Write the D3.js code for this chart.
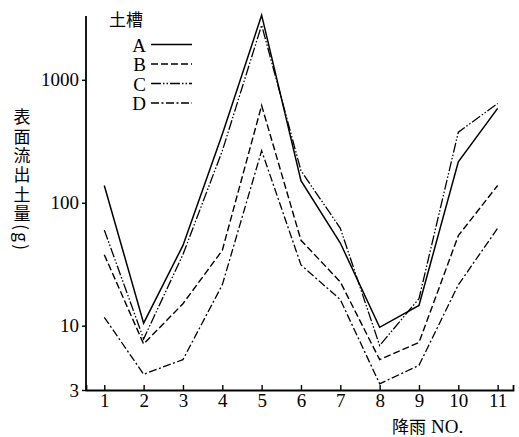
<!DOCTYPE html>
<html><head><meta charset="utf-8">
<script src="https://cdn.jsdelivr.net/npm/d3@7"></script>
<style>
html,body{margin:0;padding:0;background:#fff;}
svg{display:block;}
</style></head>
<body>
<script>
// ---- data ----
const rainfallNo = [1,2,3,4,5,6,7,8,9,10,11];
const seriesNames = ["A","B","C","D"];
const valuesA = [138, 10.5, 45, 360, 3350, 151, 47, 9.7, 14.6, 215, 585];
const valuesB = [37.8, 7.1, 15.1, 41, 618, 49.5, 22.7, 5.3, 7.3, 54, 138];
const valuesC = [60, 7.8, 38, 264, 2780, 182, 62, 6.9, 16.6, 375, 641];
const valuesD = [11.7, 4.03, 5.3, 21.5, 265, 31.2, 16.3, 3.37, 4.76, 21.5, 62];
const yTickValues = [3, 10, 100, 1000];
const yTickLabels = ["3", "10", "100", "1000"];
const yTitle = "表面流出土量(g)";
const legendTitle = "土槽";
const xTitleJa = "降雨";
const xTitleEn = "NO.";

const W = 519, H = 437;
const svg = d3.select("body").append("svg").attr("width", W).attr("height", H);

const x = d3.scaleLinear().domain([0.535, 11.39]).range([86, 513]);
const y = d3.scaleLog().domain([3, 3300]).range([390, 16]);

const serif = "'Liberation Serif','DejaVu Serif',serif";
const cjk = "'Noto Sans CJK JP','Noto Sans CJK SC',sans-serif";

const styles = {
  A: {dash: null, w: 1.5},
  B: {dash: "7,3", w: 1.4},
  C: {dash: "10,2,1.5,2,1.5,2", w: 1.3},
  D: {dash: "8,2.5,2,2.5", w: 1.3}
};
const data = {A: valuesA, B: valuesB, C: valuesC, D: valuesD};

// axes
const xAxis = d3.axisBottom(x).tickValues(rainfallNo).tickSize(-5).tickPadding(3).tickFormat(d3.format("d"));
const gx = svg.append("g").attr("transform", `translate(0,${y(3)})`).call(xAxis);
gx.select(".domain").attr("stroke-width", 1.8);
gx.selectAll(".tick line").attr("stroke-width", 1.4);
gx.selectAll(".tick text").attr("font-family", serif).attr("font-size", 19).attr("fill", "#000");

const yAxis = d3.axisLeft(y).tickValues(yTickValues).tickSize(4).tickPadding(3)
  .tickFormat((d, i) => yTickLabels[i]);
const gy = svg.append("g").attr("transform", `translate(${x.range()[0]},0)`).call(yAxis);
gy.select(".domain").attr("stroke-width", 1.8).attr("d", `M0,${y.range()[1]}V${y.range()[0]}`);
gy.selectAll(".tick line").attr("stroke-width", 1.4);
gy.selectAll(".tick text").attr("font-family", serif).attr("font-size", 19).attr("fill", "#000");

// lines
const line = d3.line().x((d, i) => x(rainfallNo[i])).y(d => y(d));
seriesNames.forEach(s => {
  svg.append("path").datum(data[s])
    .attr("d", line).attr("fill", "none").attr("stroke", "#000")
    .attr("stroke-width", styles[s].w)
    .attr("stroke-dasharray", styles[s].dash)
    .attr("stroke-linejoin", "miter");
});

// legend
svg.append("text").attr("x", 109).attr("y", 26).attr("font-family", cjk)
  .attr("font-size", 17).attr("fill", "#000").text(legendTitle);
seriesNames.forEach((s, i) => {
  const cy = 45 + i * 19.5;
  svg.append("text").attr("x", 146).attr("y", cy).attr("dy", "0.35em")
    .attr("text-anchor", "end").attr("font-family", serif).attr("font-size", 19)
    .attr("fill", "#000").text(s);
  svg.append("line").attr("x1", 151).attr("x2", 192).attr("y1", cy - 0.5).attr("y2", cy - 0.5)
    .attr("stroke", "#000").attr("stroke-width", styles[s].w)
    .attr("stroke-dasharray", styles[s].dash);
});

// y title (vertical writing, one text element)
svg.append("text")
  .attr("x", 22).attr("y", 108.5)
  .attr("writing-mode", "tb-rl")
  .style("writing-mode", "vertical-rl")
  .style("text-orientation", "mixed")
  .attr("font-family", cjk).attr("font-size", 17)
  .attr("letter-spacing", 2.3)
  .attr("fill", "#000")
  .text(yTitle);

// x title
const xt = svg.append("text").attr("fill", "#000");
xt.append("tspan").attr("x", 392).attr("y", 433).attr("font-family", cjk).attr("font-size", 17).text(xTitleJa);
xt.append("tspan").attr("x", 431).attr("y", 433).attr("font-family", serif).attr("font-size", 19).text(xTitleEn);
</script>
</body></html>
